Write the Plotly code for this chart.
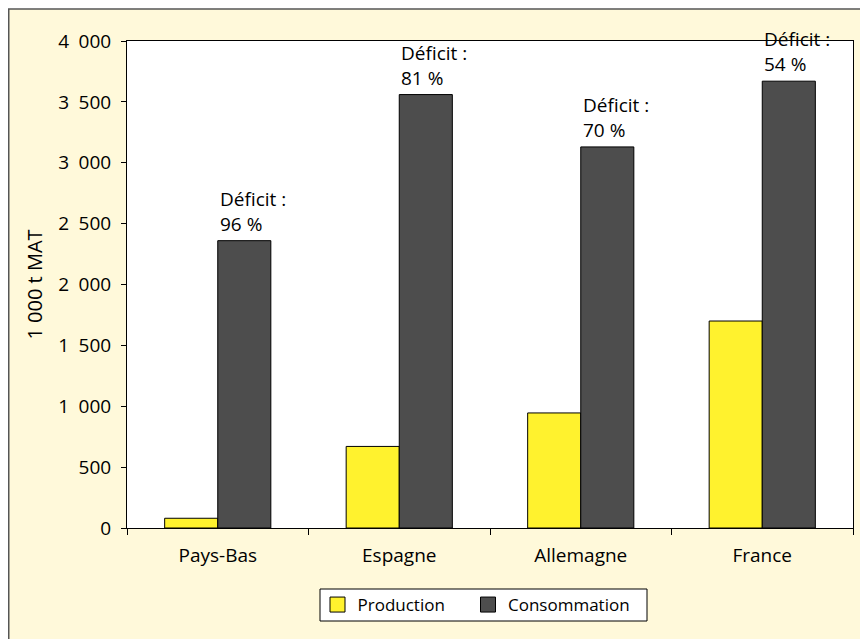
import plotly.graph_objects as go

categories = ["Pays-Bas", "Espagne", "Allemagne", "France"]
production = [80, 670, 945, 1700]
consommation = [2360, 3560, 3130, 3670]
deficits = ["96 %", "81 %", "70 %", "54 %"]
yticks = [0, 500, 1000, 1500, 2000, 2500, 3000, 3500, 4000]
ytitle = "1 000 t MAT"

FONT = "Open Sans"
YELLOW = "#FFF22E"
GREY = "#4D4D4D"
SP = "\u2002"

# page offset of 8px (body margin): work in figure-local pixels
W, H = 860, 631
L, R, T, B = 119, 15, 33, 111
pw = W - L - R
ph = H - T - B

def px_x(p):
    return (p - L) / pw

def px_y(p):
    return (H - B - p) / ph

fig = go.Figure()
fig.add_trace(go.Bar(name="Production", x=categories, y=production, showlegend=False,
                     marker=dict(color=YELLOW, line=dict(color="black", width=1))))
fig.add_trace(go.Bar(name="Consommation", x=categories, y=consommation, showlegend=False,
                     marker=dict(color=GREY, line=dict(color="black", width=1))))
for name, col, lg in (("Production", YELLOW, "legend"), ("Consommation", GREY, "legend2")):
    fig.add_trace(go.Scatter(name=name, x=[None], y=[None], mode="markers", legend=lg,
                             marker=dict(symbol="square", size=15, color=col,
                                         line=dict(color="black", width=1))))

for c, v, d in zip(categories, consommation, deficits):
    fig.add_annotation(x=c, y=v, xref="x", yref="y", text="Déficit :<br>" + d,
                       showarrow=False, xanchor="left", yanchor="bottom", align="left",
                       yshift=2, xshift=0,
                       font=dict(family=FONT, size=19, color="black"))

ticktext = [f"{v:,}".replace(",", SP) for v in yticks]

leg_common = dict(orientation="h", y=px_y(597), yanchor="middle", xanchor="left",
                  bgcolor="rgba(0,0,0,0)", borderwidth=0,
                  font=dict(family=FONT, size=17), itemwidth=30)

fig.update_layout(
    width=W, height=H,
    margin=dict(l=L, r=R, t=T, b=B),
    paper_bgcolor="white", plot_bgcolor="white",
    barmode="group", bargap=0.415, bargroupgap=0,
    font=dict(family=FONT, size=19, color="black"),
    showlegend=True,
    legend=dict(x=px_x(309.5), **leg_common),
    legend2=dict(x=px_x(460), **leg_common),
    shapes=[
        dict(type="rect", xref="paper", yref="paper", layer="below",
             x0=px_x(0.75), x1=px_x(900), y0=px_y(700), y1=px_y(1),
             fillcolor="#FFF9DA", line=dict(color="#555555", width=1.5)),
        dict(type="rect", xref="paper", yref="paper", layer="below",
             x0=0, x1=1, y0=0, y1=1, fillcolor="white", line=dict(width=0)),
        dict(type="rect", xref="paper", yref="paper", layer="above",
             x0=px_x(312), x1=px_x(639), y0=px_y(613), y1=px_y(581),
             fillcolor="white", line=dict(color="black", width=1)),
    ],
)
fig.update_xaxes(showline=True, linecolor="black", linewidth=1, mirror=True,
                 ticks="outside", ticklen=6, tickcolor="black", tickson="boundaries",
                 ticklabelstandoff=10,
                 tickfont=dict(family=FONT, size=19))
fig.update_yaxes(range=[0, 4000], tickvals=yticks, ticktext=ticktext,
                 showline=True, linecolor="black", linewidth=1, mirror=True,
                 ticks="outside", ticklen=5, tickcolor="black", showgrid=False,
                 zeroline=False, ticklabelstandoff=6, tickfont=dict(family=FONT, size=19),
                 title=dict(text=ytitle, standoff=10,
                            font=dict(family=FONT, size=20)))

fig.write_html("out.html")
